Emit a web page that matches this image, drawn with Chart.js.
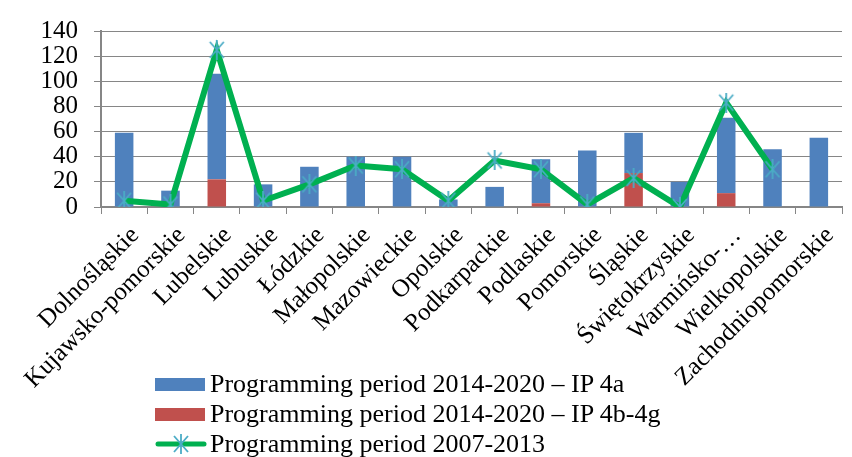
<!DOCTYPE html>
<html>
<head>
<meta charset="utf-8">
<script src="https://cdn.jsdelivr.net/npm/chart.js@4.4.0/dist/chart.umd.min.js"></script>
<style>
    html, body { margin: 0; padding: 0; background: #fff; overflow: hidden; }
    #wrap { position: relative; width: 858px; height: 457px; }
    #legend {
        position: absolute; left: 155px; top: 369px;
        font-family: "Liberation Serif", "Times New Roman", serif; font-size: 26px; color: #000;
    }
    .row { display: flex; align-items: center; height: 30px; white-space: nowrap; }
    .box { width: 50px; height: 13px; margin-right: 5px; }
</style>
</head>
<body>
<div id="wrap">
    <canvas id="chart" width="858" height="457"></canvas>
    <div id="legend">
        <div class="row"><span class="box" style="background:#4f81bd"></span>Programming period 2014-2020 – IP 4a</div>
        <div class="row"><span class="box" style="background:#c0504d"></span>Programming period 2014-2020 – IP 4b-4g</div>
        <div class="row">
            <svg width="52" height="20" style="margin-right:3px">
                <line x1="3" y1="10" x2="49" y2="10" stroke="#00b050" stroke-width="5" stroke-linecap="round"/>
                <g stroke="#4bacc6" stroke-width="1.8">
                    <line x1="19" y1="2" x2="33" y2="18"/><line x1="33" y1="2" x2="19" y2="18"/><line x1="26" y1="0" x2="26" y2="20"/>
                </g>
            </svg>Programming period 2007-2013
        </div>
    </div>
</div>
<script>
// Data
const regions = ['Dolnośląskie', 'Kujawsko-pomorskie', 'Lubelskie', 'Lubuskie', 'Łódzkie', 'Małopolskie',
    'Mazowieckie', 'Opolskie', 'Podkarpackie', 'Podlaskie', 'Pomorskie', 'Śląskie', 'Świętokrzyskie',
    'Warmińsko-…', 'Wielkopolskie', 'Zachodniopomorskie'];
const ip4a = [59, 13, 84, 18, 32, 40, 40, 6, 16, 35, 45, 32, 20, 60, 46, 55];
const ip4b4g = [0, 0, 22, 0, 0, 0, 0, 0, 0, 3, 0, 27, 0, 11, 0, 0];
const period0713 = [5, 2, 125, 5, 18, 33, 30, 5, 37, 30, 2, 23, 0, 83, 30, null];
const yTicks = [0, 20, 40, 60, 80, 100, 120, 140];

const gridColor = '#868686';
const serif = '"Liberation Serif", "Times New Roman", serif';

// asterisk marker like Excel's
function makeStar() {
    const c = document.createElement('canvas');
    c.width = 20; c.height = 20;
    const g = c.getContext('2d');
    g.strokeStyle = '#4bacc6';
    g.lineWidth = 1.8;
    g.beginPath();
    g.moveTo(3, 2); g.lineTo(17, 18);
    g.moveTo(17, 2); g.lineTo(3, 18);
    g.moveTo(10, 0); g.lineTo(10, 20);
    g.stroke();
    return c;
}
const star = makeStar();

const ctx = document.getElementById('chart').getContext('2d');
new Chart(ctx, {
    type: 'bar',
    data: {
        labels: regions,
        datasets: [{
            type: 'line',
            label: 'Programming period 2007-2013',
            data: period0713,
            borderColor: '#00b050',
            borderWidth: 6,
            pointStyle: star,
            pointRadius: 10,
            stack: 'line',
            order: 0,
            spanGaps: false
        }, {
            label: 'Programming period 2014-2020 – IP 4b-4g',
            data: ip4b4g,
            backgroundColor: '#c0504d',
            order: 1
        }, {
            label: 'Programming period 2014-2020 – IP 4a',
            data: ip4a,
            backgroundColor: '#4f81bd',
            order: 1
        }]
    },
    options: {
        responsive: false,
        animation: false,
        layout: { padding: { top: 27, left: 0, right: 0, bottom: 0 } },
        datasets: { bar: { categoryPercentage: 1, barPercentage: 0.4 } },
        plugins: { legend: { display: false }, tooltip: { enabled: false } },
        scales: {
            x: {
                stacked: true,
                offset: true,
                afterFit: function(scale) { scale.height = 250; },
                grid: { offset: true, drawOnChartArea: false, color: gridColor, tickLength: 7 },
                border: { color: gridColor, width: 2 },
                ticks: {
                    autoSkip: false, minRotation: 45, maxRotation: 45, padding: 7, labelOffset: 11,
                    color: '#000', font: { family: serif, size: 25 }
                }
            },
            y: {
                stacked: true,
                min: 0,
                max: 140,
                afterFit: function(scale) { scale.width = 101; },
                afterBuildTicks: function(scale) { scale.ticks = yTicks.map(v => ({ value: v })); },
                grid: { color: gridColor, lineWidth: 1, tickLength: 7 },
                border: { color: gridColor, width: 2 },
                ticks: { autoSkip: false, padding: 16, color: '#000', font: { family: serif, size: 25 } }
            }
        }
    }
});
</script>
</body>
</html>
